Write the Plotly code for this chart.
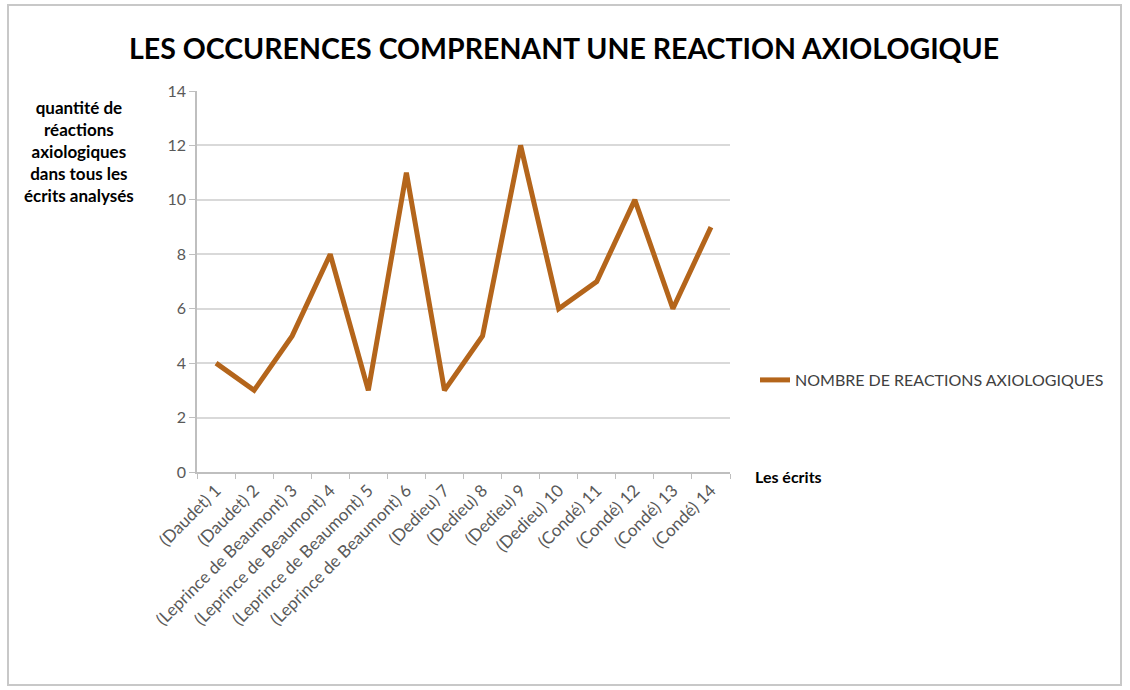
import plotly.graph_objects as go

categories = ["(Daudet) 1", "(Daudet) 2", "(Leprince de Beaumont) 3", "(Leprince de Beaumont) 4",
              "(Leprince de Beaumont) 5", "(Leprince de Beaumont) 6", "(Dedieu) 7", "(Dedieu) 8",
              "(Dedieu) 9", "(Dedieu) 10", "(Condé) 11", "(Condé) 12", "(Condé) 13", "(Condé) 14"]
values = [4, 3, 5, 8, 3, 11, 3, 5, 12, 6, 7, 10, 6, 9]
series_name = "NOMBRE DE REACTIONS AXIOLOGIQUES"
title_text = "LES OCCURENCES COMPRENANT UNE REACTION AXIOLOGIQUE"
y_title = "quantité de<br>réactions<br>axiologiques<br>dans tous les<br>écrits analysés"
x_title = "Les écrits"

W, H = 1130, 690
L, R, T, B = 197, 730, 91, 472

def px(x):
    return (x - L) / (R - L)

def py(y):
    return (B - y) / (B - T)

FONT = "Lato"
LINE = "#b4651b"

fig = go.Figure()
fig.add_trace(go.Scatter(x=categories, y=values, mode="lines", name=series_name,
                         line=dict(color=LINE, width=5)))

fig.update_layout(
    width=W, height=H,
    margin=dict(l=L, r=W - R, t=T, b=H - B),
    paper_bgcolor="white", plot_bgcolor="white",
    font=dict(family=FONT, color="#595959", size=15),
    showlegend=True,
    legend=dict(x=px(755), y=py(380), xanchor="left", yanchor="middle",
                font=dict(size=16, color="#404040"), itemwidth=30,
                bgcolor="rgba(0,0,0,0)"),
    xaxis=dict(type="category", tickson="boundaries", ticks="outside", ticklen=5,
               tickcolor="#bfbfbf", showline=True, linecolor="#bfbfbf", linewidth=1.5,
               showgrid=False, tickangle=-45, tickfont=dict(size=17, color="#595959"),
               range=[-0.5, len(categories) - 0.5]),
    yaxis=dict(range=[0, 14], dtick=2, ticks="outside", ticklen=6, tickcolor="#bfbfbf",
               showline=True, linecolor="#bfbfbf", linewidth=1.5, gridcolor="#d9d9d9",
               gridwidth=1.5, zeroline=False, tickfont=dict(size=16, color="#595959")),
)

fig.add_annotation(text="<b>" + title_text + "</b>", xref="paper", yref="paper",
                   x=px(564), y=py(48), xanchor="center", yanchor="middle",
                   showarrow=False, font=dict(size=28.5, color="#000000", family=FONT))
fig.add_annotation(text="<b>" + y_title + "</b>", xref="paper", yref="paper",
                   x=px(79), y=py(151), xanchor="center", yanchor="middle",
                   showarrow=False, align="center",
                   font=dict(size=17, color="#000000", family=FONT))
fig.add_annotation(text="<b>" + x_title + "</b>", xref="paper", yref="paper",
                   x=px(753), y=py(476), xanchor="left", yanchor="middle",
                   showarrow=False, font=dict(size=16, color="#000000", family=FONT))

fig.add_shape(type="rect", xref="paper", yref="paper",
              x0=px(8), x1=px(1121), y0=py(5), y1=py(685),
              line=dict(color="#c8c8c8", width=2), fillcolor="rgba(0,0,0,0)", layer="below")

fig.write_html("out.html", config={"displayModeBar": False},
               post_script="document.body.style.margin='0';document.body.style.overflow='hidden';")
